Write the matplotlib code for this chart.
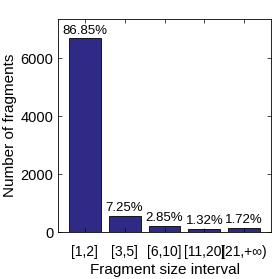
import matplotlib
matplotlib.use("Agg")
import matplotlib.pyplot as plt

categories = ["[1,2]", "[3,5]", "[6,10]", "[11,20]", "[21,+\u221e)"]
counts = [6690, 558, 220, 102, 132]
percent_labels = ["86.85%", "7.25%", "2.85%", "1.32%", "1.72%"]

plt.rcParams['font.family'] = ['Liberation Sans', 'DejaVu Sans']

fig = plt.figure(figsize=(2.79, 2.79), dpi=100)
ax = fig.add_axes([58/279, 1-232/279, 213/279, 213/279])
x = list(range(1, len(categories)+1))
ax.bar(x, counts, width=0.8, color='#2f2a86', edgecolor='black', linewidth=0.6)
for xi, c, p in zip(x, counts, percent_labels):
    ax.text(xi, c + 60, p, ha='center', va='bottom', fontsize=9.5)
ax.set_xlim(0.33, 5.67)
ax.set_ylim(0, max(counts)*1.1)
ax.set_yticks([0, 2000, 4000, 6000])
ax.set_xticks(x)
ax.set_xticklabels(categories, fontsize=10)
ax.tick_params(axis='y', labelsize=10.5, pad=3.5)
ax.tick_params(axis='x', pad=9.5)
ax.tick_params(direction='in', top=True, right=True, length=3, width=0.5)
for s in ax.spines.values():
    s.set_linewidth(0.6)
ax.set_xlabel("Fragment size interval", fontsize=11, labelpad=3)
ax.set_ylabel("Number of fragments", fontsize=11, labelpad=2)
fig.savefig("out.png", dpi=100)
